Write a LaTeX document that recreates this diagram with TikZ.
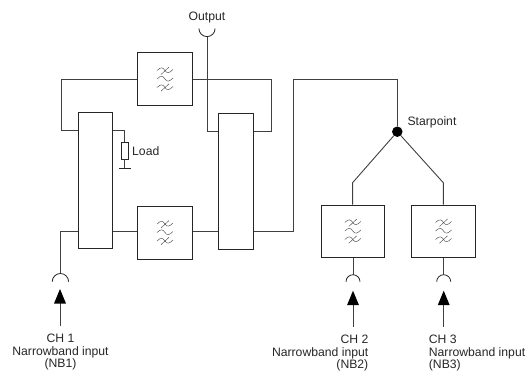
\documentclass[tikz,border=0pt]{standalone}
\usepackage{fontspec}
\setmainfont{Liberation Sans}
\tikzset{
  x=1pt,y=-1pt,
  wire/.style={draw=black!75,line width=0.9pt},
  boxn/.style={draw=black!85,line width=0.9pt,fill=white,inner sep=0pt,minimum width=#1},
  lab/.style={font=\fontsize{12.2pt}{12.3pt}\selectfont,text=black!85,inner sep=0pt},
  wave/.style={draw=black!70,line width=0.45pt},
  cupl/.style={draw=black!85,line width=0.8pt},
  feed/.style={draw=black!75,line width=0.9pt},
  tipn/.style={fill=black,draw=none}
}
\newcommand{\filtersym}[1]{%
  \begin{scope}[shift={(#1)}]
    \foreach \yy in {-8.5,0,8.5}{
      \path[wave] (-8,\yy) .. controls (-4,\yy-4) and (-2,\yy-3) .. (0,\yy) .. controls (2,\yy+3) and (4,\yy+3) .. (8,\yy-1);
    }
    \path[wave] (-4,-4.5) -- (4,-12);
    \path[wave] (-4,12.2) -- (4,4.8);
  \end{scope}}
\begin{document}
\begin{tikzpicture}
\useasboundingbox (0,0) rectangle (532,370);
% boxes
\node[boxn=55.4,minimum height=53] (ft) at (165,79.2) {};
\node[boxn=55.4,minimum height=52.3] (fb) at (165,232.8) {};
\node[boxn=34,minimum height=135.6] (tl) at (95.7,180.5) {};
\node[boxn=35,minimum height=136.3] (tr) at (235.8,181.2) {};
\node[boxn=63,minimum height=52.7] (f2) at (352.8,231.4) {};
\node[boxn=63.3,minimum height=52.7] (f3) at (443.3,231.4) {};
\filtersym{165,79}\filtersym{165,232.5}\filtersym{352.8,231}\filtersym{443.5,231}
% named points
\coordinate (lt) at (61.3,79);
\coordinate (lb) at (61.3,130);
\coordinate (rt) at (271.3,79);
\coordinate (rb) at (271.3,131);
\coordinate (oc) at (207,36.7);
\coordinate (ob) at (207,131);
\coordinate (ina) at (60.3,231.7);
\coordinate (inb) at (60.3,273.3);
\coordinate (u1) at (293.5,79);
\coordinate (u2) at (293.5,231.7);
\coordinate (u3) at (397.3,79);
\node[circle,fill=black,inner sep=0pt,minimum size=10.5pt] (star) at (397.3,131.7) {};
\coordinate (k2) at (352.6,182.7);
\coordinate (k3) at (443.3,182.7);
% wires
\draw[wire] (ft.west |- lt) -- (lt) -- (lb) -- (tl.west |- lb);
\draw[wire] (ft.east |- rt) -- (rt) -- (rb) -- (tr.east |- rb);
\draw[wire] (oc) -- (ob) -- (tr.west |- ob);
\draw[wire] (tl.west |- ina) -- (ina) -- (inb);
\draw[wire] (tl.east |- ina) -- (fb.west |- ina);
\draw[wire] (fb.east |- ina) -- (tr.west |- ina);
\draw[wire] (tr.east |- u2) -- (u2) -- (u1) -- (u3) -- (star);
\draw[wire] (star) -- (k2) -- (f2.north -| k2);
\draw[wire] (star) -- (k3) -- (f3.north -| k3);
% load
\node[draw=black!85,line width=0.8pt,inner sep=0pt,minimum width=7pt,minimum height=17pt] (res) at (124.7,150.5) {};
\coordinate (lc) at (124.7,130);
\coordinate (gnd) at (124.7,168);
\draw[wire] (tl.east |- lc) -- (lc) -- (res.north);
\draw[wire] (res.south) -- (gnd);
\draw[draw=black!85,line width=1.6pt] (119,168.5) -- (130.5,168.5);
\node[lab,anchor=west] (load) at (132,151) {Load};
% output
\node[lab] (out) at (207,18) {Output};
\path[cupl] (198.9,28.5) arc[start angle=180,end angle=0,radius=8.1];
% inputs
\path[cupl] (52.2,281.7) arc[start angle=180,end angle=360,radius=8.2];
\path[cupl] (346,281.7) arc[start angle=180,end angle=360,radius=7];
\path[cupl] (436.7,281.7) arc[start angle=180,end angle=360,radius=7];
\coordinate (c2) at (353,275);
\coordinate (c3) at (443.7,275);
\draw[wire] (f2.south -| c2) -- (c2);
\draw[wire] (f3.south -| c3) -- (c3);
% feed arrows
\foreach \nm/\xx/\ty/\by in {a/60/289/325.7,b/353/290.7/326.7,c/443.7/290.7/326.7}{
  \coordinate (t\nm) at (\xx,\ty);
  \coordinate (e\nm) at (\xx,\by);
  \draw[feed] (e\nm) -- (\xx,\ty+10);
  \fill[tipn] (t\nm) -- (\xx-6,\ty+14.5) -- (\xx+6,\ty+14.5) -- cycle;
}
% labels
\node[lab] (star lab) at (432,122) {Starpoint};
\node[lab,align=center,anchor=north] (l1) at (60.5,334) {CH 1\\Narrowband input\\(NB1)};
\node[lab,align=right,anchor=north east] (l2) at (368.5,335) {CH 2\\Narrowband input\\(NB2)};
\node[lab,align=left,anchor=north west] (l3) at (428.7,335) {CH 3\\Narrowband input\\(NB3)};
\end{tikzpicture}
\end{document}
